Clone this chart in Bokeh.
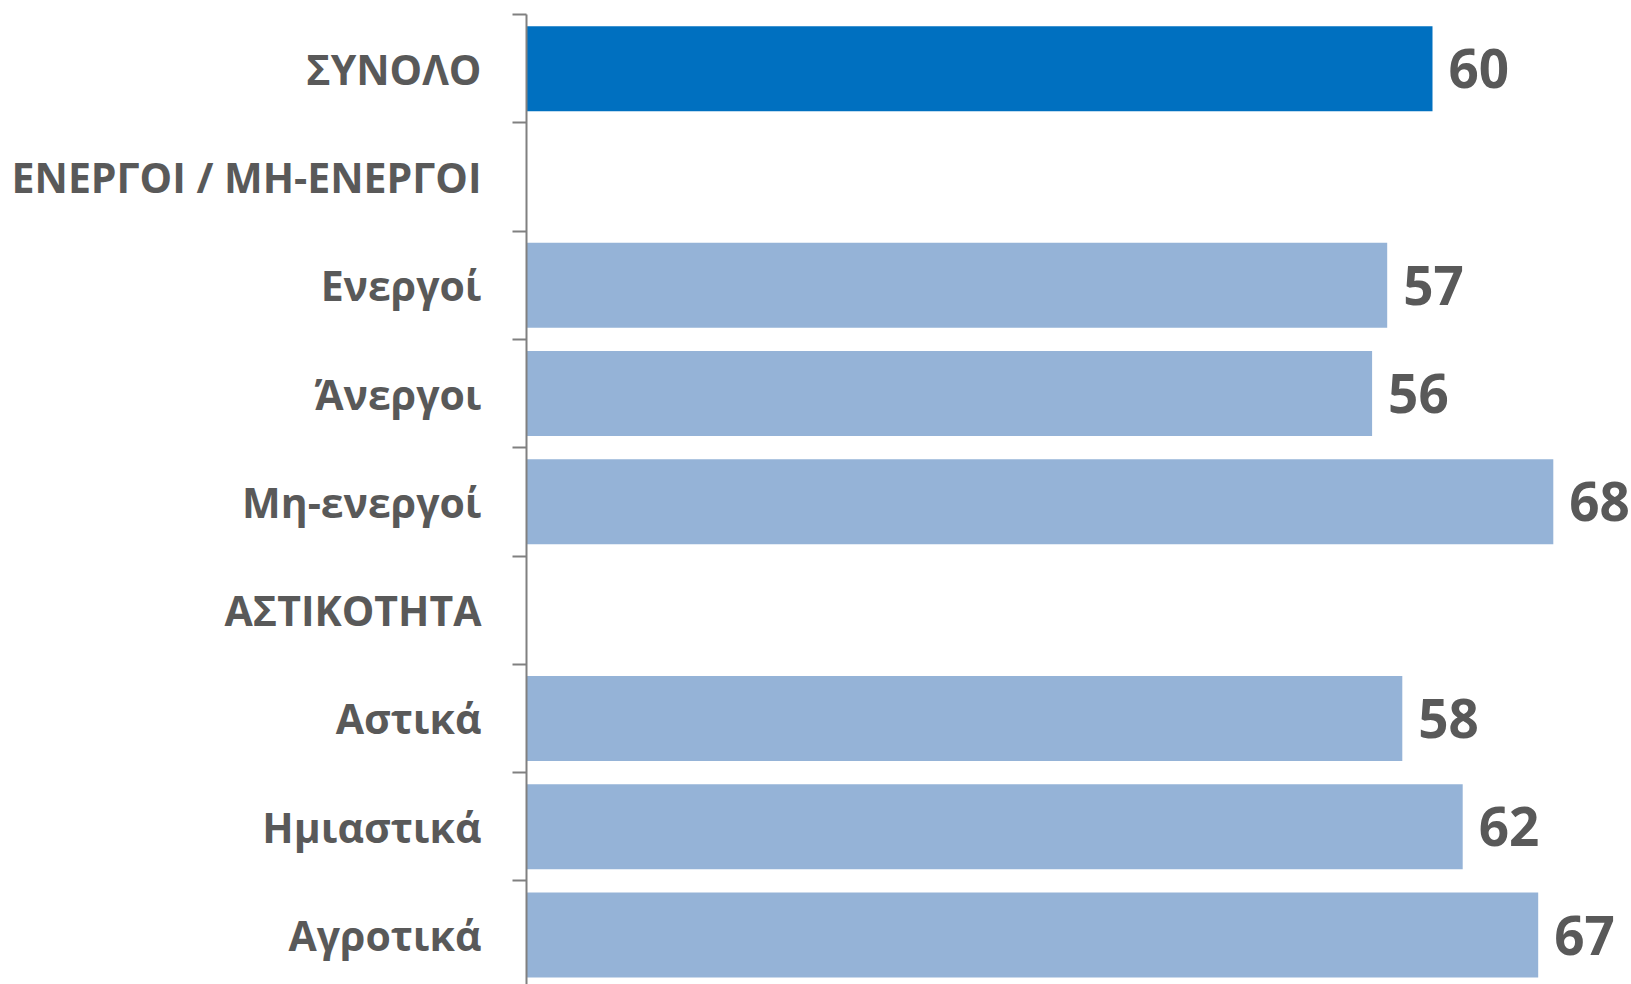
from bokeh.plotting import figure
from bokeh.models import ColumnDataSource, Range1d, FixedTicker
from bokeh.core.properties import value
from bokeh.embed import file_html
from bokeh.resources import INLINE

categories = ["ΣΥΝΟΛΟ", "ΕΝΕΡΓΟΙ / ΜΗ-ΕΝΕΡΓΟΙ", "Ενεργοί", "Άνεργοι", "Μη-ενεργοί",
              "ΑΣΤΙΚΟΤΗΤΑ", "Αστικά", "Ημιαστικά", "Αγροτικά"]
values = [60, None, 57, 56, 68, None, 58, 62, 67]
highlight = [True, False, False, False, False, False, False, False, False]

n = len(categories)
pos = [n - 1 - i for i in range(n)]

bx, by, bc, bl = [], [], [], []
for c, v, h, y in zip(categories, values, highlight, pos):
    if v is None:
        continue
    bx.append(v)
    by.append(y)
    bc.append("#0070C0" if h else "#95B3D7")
    bl.append(str(v))
src = ColumnDataSource(dict(x=bx, y=by, color=bc, label=bl))

W, H = 1631, 984
TOP = 14
LEFT = 526
frame_h = H - TOP
p = figure(width=W, height=H, output_backend="svg", toolbar_location=None,
           x_range=Range1d(0, (W - LEFT) / 15.1),
           y_range=Range1d(n - 0.5 - frame_h / 108.3, n - 0.5),
           min_border_left=LEFT, min_border_right=0, min_border_top=TOP, min_border_bottom=0)
p.outline_line_color = None
p.grid.visible = False
p.xaxis.visible = False
p.background_fill_color = "white"

p.hbar(y="y", right="x", left=0, height=0.785, color="color", source=src, line_color=None)
p.text(x="x", y="y", text="label", source=src, x_offset=16, text_baseline="middle",
       text_align="left", text_font=value("Open Sans"), text_font_style="bold",
       text_font_size="53px", text_color="#595959")

ax = p.yaxis[0]
ax.ticker = FixedTicker(ticks=pos, minor_ticks=[y + 0.5 for y in pos])
ax.major_label_overrides = {y: c for y, c in zip(pos, categories)}
ax.major_tick_out = 0
ax.major_tick_in = 0
ax.minor_tick_out = 14
ax.minor_tick_in = 0
ax.minor_tick_line_color = "#808080"
ax.minor_tick_line_width = 2
ax.axis_line_color = "#808080"
ax.axis_line_width = 2
ax.major_label_standoff = 31
ax.major_label_text_font = "Open Sans"
ax.major_label_text_font_style = "bold"
ax.major_label_text_font_size = "41px"
ax.major_label_text_color = "#595959"

open("out.html", "w").write(file_html(p, INLINE))
